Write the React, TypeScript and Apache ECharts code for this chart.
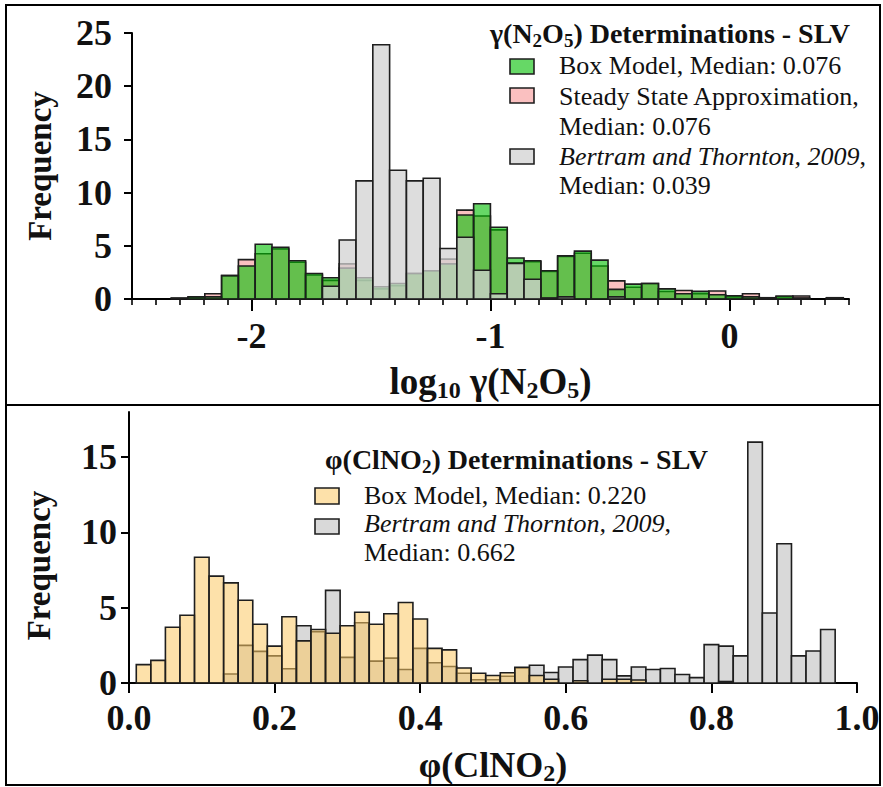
import React, { useEffect, useRef } from 'react';
import * as echarts from 'echarts';

// ---------- Top panel: log10 gamma(N2O5) histograms ----------
const gammaBinStart = -2.336;
const gammaBinWidth = 0.0703;
const gammaBoxModel = [0.1, 0.2, 0.2, 2.2, 3.1, 5.15, 4.85, 3.6, 2.4, 2.0, 2.9, 2.0, 1.15, 1.45, 2.4, 2.65, 3.3, 7.9, 8.95, 6.75, 3.85, 3.6, 2.65, 4.05, 4.5, 3.65, 0.9, 1.4, 1.45, 0.95, 0.5, 0.72, 0.4, 0.3, 0.2, 0.12, 0.28, 0.1, 0, 0.12];
const gammaSteadyState = [0, 0.15, 0.5, 2.2, 3.7, 4.25, 4.7, 3.45, 2.25, 1.75, 3.3, 1.75, 0.95, 1.25, 2.4, 2.65, 3.75, 8.35, 7.8, 6.5, 3.4, 3.5, 2.6, 4.0, 4.3, 3.1, 1.7, 1.1, 1.45, 0.7, 0.8, 0.5, 0.75, 0.2, 0.5, 0.1, 0.2, 0.28, 0, 0.1];
const gammaBertram = [0, 0, 0, 0, 0, 0, 0, 0, 0, 1.2, 5.55, 11.1, 23.9, 12.1, 11.1, 11.35, 4.75, 5.8, 2.7, 0.5, 3.35, 1.85, 0.1, 0.2, 0, 0, 0.2, 0, 0, 0, 0, 0, 0, 0, 0, 0, 0, 0, 0, 0];
const gammaTicks = [-2, -1, 0];
const gammaFreqTicks = [0, 5, 10, 15, 20, 25];

// ---------- Bottom panel: phi(ClNO2) histograms ----------
const phiBinStart = 0.01;
const phiBinWidth = 0.02;
const phiBoxModel = [1.22, 1.5, 3.7, 4.5, 8.35, 7.1, 6.65, 5.5, 3.9, 2.45, 4.4, 2.8, 3.55, 3.3, 3.8, 4.7, 3.9, 4.6, 5.35, 4.25, 2.3, 2.2, 1.0, 0.65, 0.5, 0.68, 1.05, 0.5, 0.25, 0, 0.15, 0, 0.25, 0.25, 0.2, 0, 0, 0, 0, 0, 0.1, 0, 0, 0, 0, 0, 0, 0];
const phiBertram = [0, 0, 0, 0, 0, 0, 0.6, 2.5, 2.1, 1.8, 0.95, 3.8, 3.4, 6.15, 1.7, 4.0, 1.45, 1.65, 0.9, 2.3, 1.35, 1.1, 0.65, 0.22, 0.22, 0.45, 1.0, 1.18, 0.7, 1.06, 1.55, 1.85, 1.55, 0.47, 1.06, 0.9, 0.96, 0.56, 0.36, 2.55, 2.45, 1.8, 16.0, 4.65, 9.25, 1.8, 2.13, 3.55];
const phiTicks = [0, 0.2, 0.4, 0.6, 0.8, 1.0];
const phiFreqTicks = [0, 5, 10, 15];

const serif = '"Liberation Serif", "Times New Roman", serif';
const INK = '#111';
const EDGE = '#1e1e1e';

const C_PINK = 'rgba(245,140,140,0.55)';
const C_GREEN = 'rgba(0,190,0,0.6)';
const C_GRAY_TOP = 'rgba(210,210,210,0.75)';
const C_GRAY_BOT = 'rgb(217,217,217)';
const C_YELLOW = 'rgba(252,200,100,0.55)';

const toBins = (start: number, width: number, values: number[]) =>
  values.map((v, i) => [start + i * width, start + (i + 1) * width, v]);

const histSeries = (name: string, data: number[][], fill: string, xAxisIndex: number, yAxisIndex: number) => ({
  type: 'custom',
  name,
  xAxisIndex,
  yAxisIndex,
  data,
  encode: { x: [0, 1], y: 2 },
  renderItem: (params: any, api: any) => {
    const x0 = api.value(0);
    const x1 = api.value(1);
    const v = api.value(2);
    if (!v) return null;
    const p0 = api.coord([x0, v]);
    const p1 = api.coord([x1, 0]);
    return {
      type: 'rect',
      shape: { x: p0[0], y: p0[1], width: p1[0] - p0[0], height: p1[1] - p0[1] },
      style: { fill, stroke: EDGE, lineWidth: 1.6 },
    };
  },
});

const axisLineStyle = { show: true, onZero: false, lineStyle: { color: '#000', width: 2 } };
const tickLabel = { fontFamily: serif, fontWeight: 'bold', fontSize: 36, color: INK };

const nameRich = (size: number) => ({
  b: { fontFamily: serif, fontWeight: 'bold', fontSize: size, color: INK, lineHeight: size + 4 },
  s: { fontFamily: serif, fontWeight: 'bold', fontSize: Math.round(size * 0.66), color: INK, lineHeight: Math.round(size * 0.66), verticalAlign: 'bottom' },
});

type Piece = { text: string; size: number; weight?: string; italic?: boolean; dy?: number };

let measureCtx: CanvasRenderingContext2D | null = null;
const measure = (p: Piece) => {
  if (!measureCtx) measureCtx = document.createElement('canvas').getContext('2d');
  measureCtx!.font = `${p.italic ? 'italic' : 'normal'} ${p.weight || 'normal'} ${p.size}px ${serif}`;
  return measureCtx!.measureText(p.text).width;
};

// a run of differently styled text pieces laid out side by side
const textRun = (x: number, y: number, pieces: Piece[], align: 'left' | 'right' = 'left') => {
  const widths = pieces.map(measure);
  const total = widths.reduce((a, b) => a + b, 0);
  let cx = align === 'right' ? x - total : x;
  return pieces.map((p, i) => {
    const el = {
      type: 'text',
      x: cx,
      y: y + (p.dy || 0),
      style: {
        text: p.text,
        fontFamily: serif,
        fontSize: p.size,
        fontWeight: p.weight || 'normal',
        fontStyle: p.italic ? 'italic' : 'normal',
        fill: INK,
        textAlign: 'left',
        textVerticalAlign: 'middle',
      },
    };
    cx += widths[i];
    return el;
  });
};

const box = (x: number, y: number, w: number, h: number, fill: string) => ({
  type: 'rect',
  shape: { x, y, width: w, height: h },
  style: { fill, stroke: EDGE, lineWidth: 1.6 },
});

const T = 28; // legend title size
const S = 19; // subscript size
const SDY = 7; // subscript drop
const L = 26; // legend text size

export default function App() {
  const ref = useRef<HTMLDivElement>(null);
  useEffect(() => {
    const chart = echarts.init(ref.current!, null, { renderer: 'svg' });
    const option: any = {
      animation: false,
      backgroundColor: '#fff',
      grid: [
        { left: 132, right: 34, top: 33, bottom: 488 },
        { left: 129, right: 26, top: 412, bottom: 104 },
      ],
      xAxis: [
        {
          gridIndex: 0, type: 'value', min: -2.5, max: 0.5, position: 'bottom',
          axisLine: axisLineStyle,
          axisTick: { show: true, customValues: gammaTicks, length: 12, lineStyle: { color: '#000', width: 2 } },
          axisLabel: { ...tickLabel, customValues: gammaTicks, margin: 19 },
          splitLine: { show: false },
          name: '{b|log}{s|10}{b| γ(N}{s|2}{b|O}{s|5}{b|)}',
          nameLocation: 'middle', nameGap: 62,
          nameTextStyle: { rich: nameRich(37) },
        },
        {
          gridIndex: 0, type: 'value', min: -2.5, max: 0.5, interval: 0.1, position: 'bottom',
          axisLine: { show: false, onZero: false },
          axisTick: { show: true, length: 6, lineStyle: { color: '#000', width: 1.6 } },
          axisLabel: { show: false },
          splitLine: { show: false },
        },
        {
          gridIndex: 1, type: 'value', min: 0, max: 1, interval: 0.2,
          axisLine: axisLineStyle,
          axisTick: { show: true, customValues: phiTicks, length: 10, lineStyle: { color: '#000', width: 2 } },
          axisLabel: { ...tickLabel, customValues: phiTicks, margin: 17, formatter: (v: number) => v.toFixed(1) },
          splitLine: { show: false },
          name: '{b|φ(ClNO}{s|2}{b|)}',
          nameLocation: 'middle', nameGap: 62,
          nameTextStyle: { rich: nameRich(36) },
        },
      ],
      yAxis: [
        {
          gridIndex: 0, type: 'value', min: 0, max: 25, interval: 5,
          axisLine: axisLineStyle,
          axisTick: { show: true, customValues: gammaFreqTicks, length: 8, lineStyle: { color: '#000', width: 2 } },
          axisLabel: { ...tickLabel, customValues: gammaFreqTicks, margin: 20 },
          splitLine: { show: false },
          name: 'Frequency', nameLocation: 'middle', nameRotate: 90, nameGap: 76,
          nameTextStyle: { fontFamily: serif, fontWeight: 'bold', fontSize: 33, color: INK },
        },
        {
          gridIndex: 1, type: 'value', min: 0, max: 18,
          axisLine: axisLineStyle,
          axisTick: { show: true, customValues: phiFreqTicks, length: 8, lineStyle: { color: '#000', width: 2 } },
          axisLabel: { ...tickLabel, customValues: phiFreqTicks, margin: 12 },
          splitLine: { show: false },
          name: 'Frequency', nameLocation: 'middle', nameRotate: 90, nameGap: 74,
          nameTextStyle: { fontFamily: serif, fontWeight: 'bold', fontSize: 33, color: INK, padding: [0, 36, 0, 0] },
        },
      ],
      series: [
        histSeries('Steady State Approximation', toBins(gammaBinStart, gammaBinWidth, gammaSteadyState), C_PINK, 0, 0),
        histSeries('Box Model', toBins(gammaBinStart, gammaBinWidth, gammaBoxModel), C_GREEN, 0, 0),
        histSeries('Bertram and Thornton, 2009', toBins(gammaBinStart, gammaBinWidth, gammaBertram), C_GRAY_TOP, 0, 0),
        histSeries('Bertram and Thornton, 2009 (φ)', toBins(phiBinStart, phiBinWidth, phiBertram), C_GRAY_BOT, 2, 1),
        histSeries('Box Model (φ)', toBins(phiBinStart, phiBinWidth, phiBoxModel), C_YELLOW, 2, 1),
      ],
      graphic: [
        { type: 'rect', shape: { x: 6, y: 5, width: 874, height: 780 }, style: { fill: 'none', stroke: '#000', lineWidth: 2 }, z: 100 },
        { type: 'line', shape: { x1: 6, y1: 405, x2: 880, y2: 405 }, style: { stroke: '#000', lineWidth: 2 }, z: 100 },
        // top legend
        ...textRun(850, 33, [
          { text: 'γ(N', size: T, weight: 'bold' },
          { text: '2', size: S, weight: 'bold', dy: SDY },
          { text: 'O', size: T, weight: 'bold' },
          { text: '5', size: S, weight: 'bold', dy: SDY },
          { text: ') Determinations - SLV', size: T, weight: 'bold' },
        ], 'right'),
        box(510, 59, 24, 15, 'rgb(102,216,102)'),
        ...textRun(559, 65, [{ text: 'Box Model, Median: 0.076', size: L }]),
        box(510, 88, 24, 15, 'rgb(250,192,192)'),
        ...textRun(559, 96.5, [{ text: 'Steady State Approximation,', size: L }]),
        ...textRun(559, 126.5, [{ text: 'Median: 0.076', size: L }]),
        box(510, 149, 24, 15, 'rgb(221,221,221)'),
        ...textRun(559, 156.5, [{ text: 'Bertram and Thornton, 2009', size: L, italic: true }, { text: ',', size: L }]),
        ...textRun(559, 185.5, [{ text: 'Median: 0.039', size: L }]),
        // bottom legend
        ...textRun(708, 459, [
          { text: 'φ(ClNO', size: T, weight: 'bold' },
          { text: '2', size: S, weight: 'bold', dy: SDY },
          { text: ') Determinations - SLV', size: T, weight: 'bold' },
        ], 'right'),
        box(315, 488, 24, 16, 'rgb(253,225,170)'),
        ...textRun(364, 495, [{ text: 'Box Model, Median: 0.220', size: L }]),
        box(315, 519, 24, 15, 'rgb(217,217,217)'),
        ...textRun(364, 523.5, [{ text: 'Bertram and Thornton, 2009', size: L, italic: true }, { text: ',', size: L }]),
        ...textRun(364, 552, [{ text: 'Median: 0.662', size: L }]),
      ],
    };
    chart.setOption(option);
    return () => chart.dispose();
  }, []);
  return (
    <div
      ref={ref}
      style={{ position: 'fixed', left: 0, top: 0, width: 883, height: 787, background: '#fff' }}
    />
  );
}
